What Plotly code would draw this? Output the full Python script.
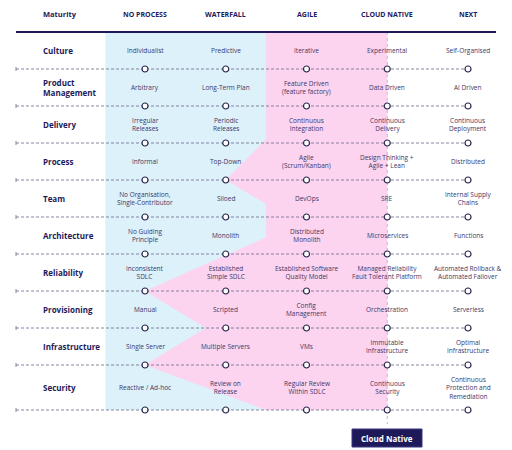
import plotly.graph_objects as go

# ---------------- data ----------------
stages = ["NO PROCESS", "WATERFALL", "AGILE", "CLOUD NATIVE", "NEXT"]
dimensions = ["Culture", "Product<br>Management", "Delivery", "Process", "Team",
              "Architecture", "Reliability", "Provisioning", "Infrastructure", "Security"]
no_process = ["Individualist", "Arbitrary", "Irregular<br>Releases", "Informal",
              "No Organisation,<br>Single-Contributor", "No Guiding<br>Principle",
              "Inconsistent<br>SDLC", "Manual", "Single Server", "Reactive / Ad-hoc"]
waterfall = ["Predictive", "Long-Term Plan", "Periodic<br>Releases", "Top-Down", "Siloed",
             "Monolith", "Established<br>Simple SDLC", "Scripted", "Multiple Servers",
             "Review on<br>Release"]
agile = ["Iterative", "Feature Driven<br>(feature factory)", "Continuous<br>Integration",
         "Agile<br>(Scrum/Kanban)", "DevOps", "Distributed<br>Monolith",
         "Established Software<br>Quality Model", "Config<br>Management", "VMs",
         "Regular Review<br>Within SDLC"]
cloud_native = ["Experimental", "Data Driven", "Continuous<br>Delivery",
                "Design Thinking +<br>Agile + Lean", "SRE", "Microservices",
                "Managed Reliability<br>Fault Tolerant Platform", "Orchestration",
                "Immutable<br>Infrastructure", "Continuous<br>Security"]
next_stage = ["Self-Organised", "AI Driven", "Continuous<br>Deployment", "Distributed",
              "Internal Supply<br>Chains", "Functions", "Automated Rollback &<br>Automated Failover",
              "Serverless", "Optimal<br>Infrastructure",
              "Continuous<br>Protection and<br>Remediation"]
header_label = "Maturity"
current_label = "Cloud Native"
# highlighted zone outline in (stage index, row-boundary index) units
zone_outline = [(1.5, 0), (1.5, 2.9), (1.0, 4), (1.5, 4.65), (1.5, 5.55), (0, 7),
                (0.75, 8), (0, 9), (1.5, 10), (3, 10), (3, 0)]

columns = [no_process, waterfall, agile, cloud_native, next_stage]

# ---------------- layout helpers ----------------
W, H = 512, 450
X0, DX = 145, 80.75
TOP = 32
NAVY = "#1e1a5a"
TEXT = "#3c3768"
FONT = "Open Sans"


def sx(s):
    return X0 + DX * s


row_h = []
for r in range(len(dimensions)):
    nl = max(col[r].count("<br>") + 1 for col in columns)
    row_h.append(37 + 8 * max(0, nl - 2))
lines = [TOP]
for h in row_h:
    lines.append(lines[-1] + h)


def ly(v):
    i = int(v)
    if i >= len(lines) - 1:
        return lines[-1]
    return lines[i] + (v - i) * (lines[i + 1] - lines[i])


fig = go.Figure()
shapes = []
ann = []

# blue band
shapes.append(dict(type="rect", xref="x", yref="y", x0=sx(-0.49), x1=sx(3), y0=lines[0], y1=lines[-1],
                   fillcolor="#ddf1fa", line=dict(width=0), layer="below"))
# pink zone
path = "M " + " L ".join(f"{sx(a):.2f},{ly(b):.2f}" for a, b in zone_outline) + " Z"
shapes.append(dict(type="path", path=path, xref="x", yref="y", fillcolor="#fcd4ef",
                   line=dict(width=0), layer="below"))
# vertical dotted line
shapes.append(dict(type="line", x0=sx(3), x1=sx(3), y0=lines[0], y1=lines[-1] + 14,
                   line=dict(color="#cdb6ca", width=1, dash="dot"), layer="below"))
# thick header line
shapes.append(dict(type="line", x0=16, x1=496, y0=TOP, y1=TOP,
                   line=dict(color=NAVY, width=2), layer="above"))
# dashed row lines
for y in lines[1:]:
    shapes.append(dict(type="line", x0=16, x1=sx(4), y0=y, y1=y,
                       line=dict(color="#6a6888", width=0.8, dash="3px,2px"), layer="below"))
    shapes.append(dict(type="line", x0=16, x1=16, y0=y - 2, y1=y + 2,
                       line=dict(color="#6a6888", width=0.8), layer="below"))

# circles
mx, my = [], []
for y in lines[1:]:
    for s in range(len(stages)):
        mx.append(sx(s))
        my.append(y)
fig.add_trace(go.Scatter(x=mx, y=my, mode="markers", hoverinfo="skip",
                         marker=dict(symbol="circle", size=6, color="white",
                                     line=dict(color="#2a2750", width=1.2))))

# headers
ann.append(dict(x=41, y=14, text=f"<b>{header_label}</b>", xanchor="left", yanchor="middle",
                showarrow=False, font=dict(family=FONT, size=7.5, color=NAVY)))
for s, name in enumerate(stages):
    ann.append(dict(x=sx(s), y=14, text=f"<b>{name}</b>", xanchor="center", yanchor="middle",
                    showarrow=False, font=dict(family=FONT, size=7, color=NAVY)))

# rows
for r, dim in enumerate(dimensions):
    yc = (lines[r] + lines[r + 1]) / 2
    ann.append(dict(x=41, y=yc, text=f"<b>{dim}</b>", xanchor="left", yanchor="middle", align="left",
                    showarrow=False, font=dict(family=FONT, size=8, color=NAVY)))
    for s, col in enumerate(columns):
        ann.append(dict(x=sx(s), y=yc, text=col[r], xanchor="center", yanchor="middle", align="center",
                        showarrow=False, font=dict(family=FONT, size=6.5, color=TEXT)))

# current-state button
shapes.append(dict(type="rect", x0=352, x1=422, y0=429, y1=447, fillcolor=NAVY,
                   line=dict(color="#3a3680", width=1), layer="above"))
ann.append(dict(x=387, y=438, text=f"<b>{current_label}</b>", xanchor="center", yanchor="middle",
                showarrow=False, font=dict(family=FONT, size=8, color="white")))

fig.update_layout(width=W, height=H, margin=dict(l=0, r=0, t=0, b=0),
                  paper_bgcolor="white", plot_bgcolor="white", showlegend=False,
                  shapes=shapes, annotations=ann,
                  xaxis=dict(range=[0, W], visible=False, fixedrange=True),
                  yaxis=dict(range=[H, 0], visible=False, fixedrange=True))
fig.write_html("out.html", config={"displayModeBar": False},
               post_script="document.body.style.margin='0';document.body.style.overflow='hidden';")
